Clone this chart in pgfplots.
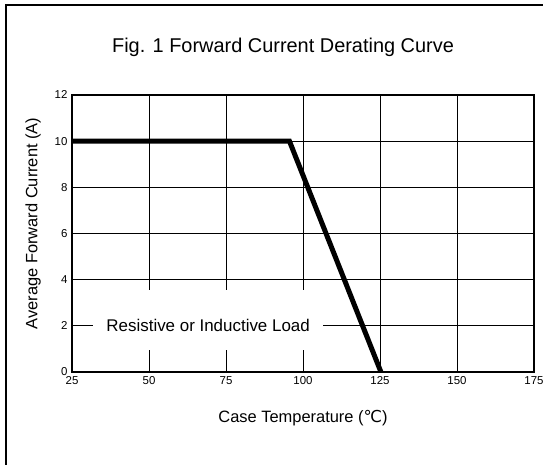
\documentclass[border=0pt]{standalone}
\usepackage{pgfplots}
\pgfplotsset{compat=1.18}
\usepackage{fontspec}
\setmainfont{Liberation Sans}
\newfontfamily\symfont{DejaVu Sans}
\begin{document}
\begin{tikzpicture}[x=1bp,y=1bp]
\useasboundingbox (0,0) rectangle (543,465);
% outer frame (only top and left edges visible)
\draw[line width=1.5bp] (6,0) -- (6,460) -- (543,460);
\begin{axis}[
    at={(72bp,93bp)}, anchor=south west,
    scale only axis, width=462bp, height=277bp,
    xmin=25, xmax=175, ymin=0, ymax=12,
    xtick={25,50,...,175}, ytick={0,2,...,12},
    major tick length=0pt,
    axis line style={line width=1.2bp},
    tick label style={font=\fontsize{11.5}{12}\selectfont},
    yticklabel style={xshift=-1bp},
    xticklabel style={yshift=-1bp},
    /pgf/number format/assume math mode=true,
    clip=false,
]
% grid
\tikzset{gl/.style={black, line width=1bp}}
\draw[gl] (axis cs:25,4) -- (axis cs:175,4);
\draw[gl] (axis cs:25,6) -- (axis cs:175,6);
\draw[gl] (axis cs:25,8) -- (axis cs:175,8);
\draw[gl] (axis cs:25,10) -- (axis cs:175,10);
\draw[gl] (axis cs:25,2) -- (axis cs:31.8,2);
\draw[gl] (axis cs:106.5,2) -- (axis cs:175,2);
\draw[gl] (axis cs:50,12) -- (axis cs:50,3.55);
\draw[gl] (axis cs:50,0.94) -- (axis cs:50,0);
\draw[gl] (axis cs:75,12) -- (axis cs:75,3.55);
\draw[gl] (axis cs:75,0.94) -- (axis cs:75,0);
\draw[gl] (axis cs:100,12) -- (axis cs:100,3.55);
\draw[gl] (axis cs:100,0.94) -- (axis cs:100,0);
\draw[gl] (axis cs:125,12) -- (axis cs:125,0);
\draw[gl] (axis cs:150,12) -- (axis cs:150,0);
\node[font=\fontsize{17}{19}\selectfont] at (axis cs:69.2,2) {Resistive or Inductive Load};
% derating curve
\addplot[black, line width=5bp, line join=miter, mark=none] coordinates {(25,10) (95.6,10) (125.3,0)};
\end{axis}
\node[font=\fontsize{20}{22}\selectfont] at (283,418) {Fig. 1 Forward Current Derating Curve};
\node[font=\fontsize{16.5}{18}\selectfont, rotate=90] at (33,241.5) {Average Forward Current (A)};
\node[font=\fontsize{16.5}{18}\selectfont] at (303,47) {Case Temperature ({\symfont ℃})};
\end{tikzpicture}
\end{document}
